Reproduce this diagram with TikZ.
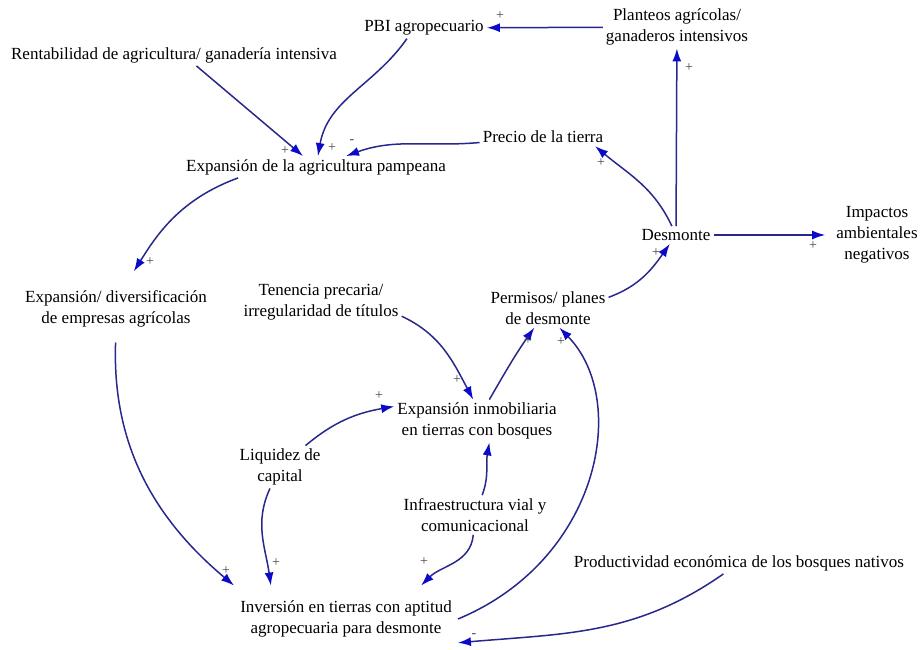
\documentclass[tikz,border=0pt]{standalone}
\usepackage{fontspec}
\setmainfont{Liberation Serif}
\usetikzlibrary{arrows.meta}
\definecolor{linkc}{RGB}{40,40,140}
\definecolor{tipc}{RGB}{10,10,200}
\definecolor{sgnc}{RGB}{70,70,70}

\begin{document}
\begin{tikzpicture}[x=1pt,y=1pt,every node/.style={font=\fontsize{17}{21}\selectfont},
  var/.style={align=center,inner sep=3pt},
  lnk/.style={draw=linkc,line width=1.5pt,-{Latex[length=13pt,width=9pt,color=tipc]}},
  sgn/.style={text=sgnc,inner sep=0pt,font=\fontsize{14}{14}\selectfont}]
  \useasboundingbox (0,0) rectangle (921,650);
  \node[var] (pbi) at (424,622) {PBI agropecuario};
  \node[var] (plan) at (677,623) {Planteos agrícolas/\\ganaderos intensivos};
  \node[var] (rent) at (174,595) {Rentabilidad de agricultura/ ganadería intensiva};
  \node[var] (agr) at (316,483) {Expansión de la agricultura pampeana};
  \node[var] (precio) at (543,513) {Precio de la tierra};
  \node[var] (desm) at (676,415) {Desmonte};
  \node[var] (imp) at (877,415) {Impactos\\ambientales\\negativos};
  \node[var] (div) at (116,341) {Expansión/ diversificación\\de empresas agrícolas};
  \node[var] (ten) at (321,348) {Tenencia precaria/\\irregularidad de títulos};
  \node[var] (perm) at (548,342) {Permisos/ planes\\de desmonte};
  \node[var] (inmo) at (477,229) {Expansión inmobiliaria\\en tierras con bosques};
  \node[var] (liq) at (280,183) {Liquidez de\\capital};
  \node[var] (infra) at (475,135) {Infraestructura vial y\\comunicacional};
  \node[var] (prod) at (739,87) {Productividad económica de los bosques nativos};
  \node[var,inner xsep=6pt,inner ysep=15pt] (inv) at (346,31) {Inversión en tierras con aptitud\\agropecuaria para desmonte};
  \draw[lnk] (plan) -- (pbi);
  \draw[lnk] (desm) -- (plan);
  \draw[lnk] (desm) to[out=115,in=-40] (precio.-10);
  \draw[lnk,shorten >=8pt] (desm) -- (imp);
  \draw[lnk] (precio) to[out=185,in=20] (agr);
  \draw[lnk] (pbi.212) to[out=235,in=80] (agr);
  \draw[lnk] (rent.-26) -- (agr);
  \draw[lnk,shorten >=19pt] (agr.188) to[out=200,in=58] (div.70);
  \draw[lnk,shorten <=12pt] (div.south) to[out=268,in=140] (inv.north west);
  \draw[lnk] (ten.-10) to[out=-25,in=118] (inmo.100);
  \draw[lnk] (inmo) to[out=60,in=235] (perm);
  \draw[lnk] (inv.east) .. controls (600,90) and (630,250) .. (perm.-60);
  \draw[lnk] (perm.10) to[out=20,in=235] (desm);
  \draw[lnk] (liq) to[out=40,in=190] (inmo.170);
  \draw[lnk] (liq) to[out=245,in=98] (inv.156);
  \draw[lnk] (infra) to[out=70,in=260] (inmo.-60);
  \draw[lnk] (infra) to[out=265,in=45] (inv.24);
  \draw[lnk] (prod) to[out=215,in=5] (inv.-12);
  \node[sgn] (s1) at (500,634) {+};
  \node[sgn] (s2) at (689,582) {+};
  \node[sgn] (s3) at (601,487) {+};
  \node[sgn] (s4) at (813,404) {+};
  \node[sgn] (s5) at (352,508) {-};
  \node[sgn] (s6) at (332,502) {+};
  \node[sgn] (s7) at (285,499) {+};
  \node[sgn] (s8) at (150,388) {+};
  \node[sgn] (s9) at (226,79) {+};
  \node[sgn] (s10) at (457,270) {+};
  \node[sgn] (s11) at (528,309) {+};
  \node[sgn] (s12) at (561,308) {+};
  \node[sgn] (s13) at (656,397) {+};
  \node[sgn] (s14) at (379,254) {+};
  \node[sgn] (s15) at (276,87) {+};
  \node[sgn] (s17) at (424,88) {+};
  \node[sgn] (s18) at (474,14) {-};
\end{tikzpicture}
\end{document}
